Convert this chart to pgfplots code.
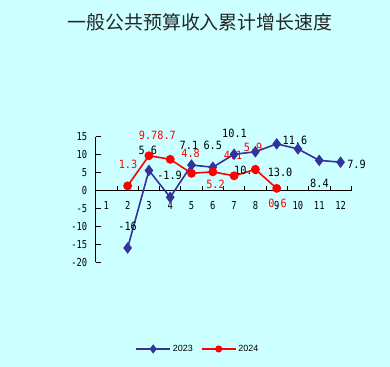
\documentclass[border=0pt]{standalone}
\usepackage{fontspec}
\setmainfont{DejaVu Sans Mono}
\newfontfamily\cjk{Noto Sans CJK SC}
\newfontfamily\lsans{Liberation Sans}
\newfontfamily\tickf[FakeStretch=0.8]{DejaVu Sans Mono}
\newfontfamily\labf[FakeStretch=0.9]{DejaVu Sans Mono}
\usepackage{pgfplots}
\pgfplotsset{compat=1.18}
\definecolor{bg}{HTML}{CCFFFF}
\definecolor{sA}{HTML}{333399}
\begin{document}
\begin{tikzpicture}[x=1bp,y=1bp]
\fill[bg] (0,0) rectangle (390,367);
\node[font=\cjk\fontsize{19}{19}\selectfont, text=black!85] at (200,345) {一般公共预算收入累计增长速度};
\begin{axis}[
  at={(95.7bp,104.7bp)}, anchor=south west,
  scale only axis, width=255.5bp, height=125.6bp,
  xmin=0.5, xmax=12.5, ymin=-20, ymax=15,
  axis x line*=middle, axis y line*=left,
  axis line style={line width=0.8bp},
  clip=false,
  ytick={-20,-15,...,15},
  ytick align=inside,
  xtick={1,...,12},
  xticklabels={1,2,3,4,5,6,7,8,9,10,11,12},
  minor xtick={0.5,1.5,...,12.5},
  xtick align=inside,
  major x tick style={draw=none},
  major tick length=5bp, minor tick length=5bp,
  tick style={black, line width=0.8bp},
  hide obscured x ticks=false,
  ticklabel style={font=\tickf\fontsize{11}{11}\selectfont},
  /pgf/number format/assume math mode=true,
  xticklabel style={yshift=-7bp},
  yticklabel style={xshift=-5bp},
  legend columns=2,
  legend style={at={(0.40,-0.69)}, anchor=center, draw=none, fill=none,
    font=\lsans\fontsize{9}{9}\selectfont,
    /tikz/every even column/.append style={column sep=6bp}},
  legend image code/.code={\draw[mark repeat=2,mark phase=2,#1,every mark/.append style={scale=0.75}] plot coordinates {(0bp,0bp) (17bp,0bp) (34bp,0bp)};},
]
\addplot[sA, line width=1.6bp, mark=diamond*, mark size=4.5bp, mark options={fill=sA, solid}]
  coordinates {(2,-16) (3,5.6) (4,-1.9) (5,7.1) (6,6.5) (7,10.1) (8,10.8) (9,13.0) (10,11.6) (11,8.4) (12,7.9)};
\addlegendentry{2023}
\addplot[red, line width=1.6bp, mark=*, mark size=3.6bp, mark options={fill=red, solid}]
  coordinates {(2,1.3) (3,9.7) (4,8.7) (5,4.8) (6,5.2) (7,4.1) (8,5.9) (9,0.6)};
\addlegendentry{2024}
% data labels 2023
\begin{scope}[every node/.style={font=\labf\fontsize{11.4}{12}\selectfont, text=black, inner sep=0pt}]
\node at (axis cs:2.0,-9.96) {-16};
\node at (axis cs:2.95,11.26) {5.6};
\node at (axis cs:3.97,4.34) {-1.9};
\node at (axis cs:4.88,12.7) {7.1};
\node at (axis cs:6.0,12.7) {6.5};
\node at (axis cs:7.02,15.85) {10.1};
\node at (axis cs:7.58,5.53) {10.8};
\node at (axis cs:9.16,5.07) {13.0};
\node at (axis cs:9.86,14.1) {11.6};
\node at (axis cs:11.01,2.0) {8.4};
\node at (axis cs:12.75,7.4) {7.9};
\end{scope}
\begin{scope}[every node/.style={font=\labf\fontsize{11.4}{12}\selectfont, text=red, inner sep=0pt}]
\node at (axis cs:2.02,7.4) {1.3};
\node at (axis cs:2.96,15.5) {9.7};
\node at (axis cs:3.83,15.5) {8.7};
\node at (axis cs:4.96,10.4) {4.8};
\node at (axis cs:6.13,1.66) {5.2};
\node at (axis cs:6.95,9.7) {4.1};
\node at (axis cs:7.89,12.0) {5.9};
\node at (axis cs:9.04,-3.7) {0.6};
\end{scope}
\end{axis}
\end{tikzpicture}
\end{document}
